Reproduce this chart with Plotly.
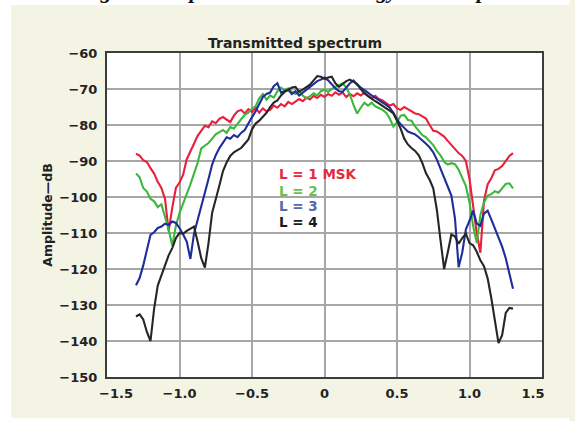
import plotly.graph_objects as go

# ---- data ----
x_vals = [round(-1.3 + 0.025 * i, 3) for i in range(105)]

red_l1 = [-88, -88.5, -89.8, -90.3, -92, -93.5, -95.8, -97.5, -100.5, -109.5,
          -103, -97.5, -96, -93.8, -89.5, -87.5, -85.2, -83, -81.5, -80.2,
          -80.6, -79, -79.5, -78.3, -77.8, -78.6, -79.2, -77.4, -76.2, -75.8,
          -76.8, -75.6, -76.4, -75.2, -76.6, -75.4, -76.2, -75.8, -74.6, -75.2,
          -74.2, -74.8, -73.6, -74.2, -73.4, -72.8, -73.4, -72.4, -72.9, -71.9,
          -72.5, -71.6, -72.2, -71.4, -71.9, -70.9, -71.6, -71, -72.2, -71.4,
          -72, -71.2, -71.8, -71, -71.8, -72.6, -71.9, -72.8, -73.2, -73.8,
          -74.6, -74.2, -75.4, -75.8, -75, -75.6, -76.2, -76.8, -77, -77.6,
          -78.2, -80, -81.6, -81.8, -82.6, -83.2, -84.4, -85.6, -86.8, -87.8,
          -88.6, -90, -95, -103, -110, -115.5, -101, -96.5, -94.8, -92.6,
          -92.2, -91.4, -90, -88.6, -87.8]

green_l2 = [-93.5, -94.5, -97.5, -98.5, -100.5, -101.2, -102.8, -102, -105.5, -109,
            -113.5, -108, -104.5, -102, -99.5, -96.5, -93.5, -90.5, -86.5, -85.8,
            -85, -83.8, -82.6, -82, -81.4, -82.2, -80.6, -81, -79.6, -78.4,
            -77.2, -76.6, -75.4, -74.8, -72.6, -71.4, -73, -71.8, -72.4, -70.6,
            -69.6, -70.4, -69.8, -70.8, -71.4, -70.6, -71.8, -72.6, -72, -71.2,
            -71.8, -70.6, -70.2, -70.8, -70, -69.4, -68.8, -68.4, -69.6, -71.6,
            -74.4, -76.8, -75.2, -73.8, -74.6, -73.8, -74.8, -75.2, -75.8, -76.6,
            -78.2, -80.4, -79.2, -77.4, -77.2, -78.6, -78.8, -80.4, -81.6, -82.8,
            -83.4, -84.6, -85.6, -87.2, -88.4, -90.2, -91, -90.6, -90.9, -92.4,
            -94.6, -97, -101.5, -108, -112.8, -105, -101.5, -99.6, -99.2, -98.4,
            -98.8, -97.6, -96.4, -96.2, -97.6]

blue_l3 = [-124.5, -122.5, -119, -114.5, -110.5, -109.8, -108.6, -108.2, -107.4, -107.8,
           -106.8, -107.2, -108.6, -110.4, -112.4, -117.2, -110.2, -106.4, -102.8, -99,
           -95, -91, -88.4, -86.4, -84.8, -83.4, -83.8, -82.8, -83.4, -82.2,
           -81.4, -79.4, -77.8, -76.2, -74, -72.2, -71.4, -71, -69.2, -68.4,
           -71, -70.6, -70.2, -71.4, -70.6, -71.8, -71, -70.2, -69.4, -68.6,
           -67.8, -67.4, -66.8, -67.6, -68.8, -69.8, -70.6, -70.8, -69.6, -68.4,
           -67.6, -68.8, -69.6, -70.2, -71, -71.8, -72.4, -73.2, -73.8, -74.4,
           -75.2, -76.6, -78.4, -79.8, -80.8, -81.8, -82.2, -82.6, -83.4, -84.2,
           -85.2, -86.2, -87.6, -89.6, -92.2, -94.8, -97.2, -99.6, -106, -119.5,
           -115.4, -109, -106.6, -103.8, -107.4, -108, -104.6, -103.8, -106.2, -108.6,
           -111.2, -113.8, -117, -121.5, -125.5]

black_l4 = [-133.2, -132.6, -134, -137.5, -140, -131, -124.6, -121.8, -118.6, -116.2,
            -114.2, -111.4, -110, -110.2, -109.4, -108.8, -108.2, -112.4, -117, -119.6,
            -112.8, -104.4, -100.8, -96.8, -92.8, -90.4, -88.6, -87.6, -87, -86.4,
            -85.2, -84, -81.2, -79.6, -78.8, -77.8, -76.6, -75, -73.8, -73.2,
            -71.8, -70.8, -70.2, -69.6, -69.4, -70.8, -70.2, -69.4, -68.8, -67.6,
            -66.4, -66.6, -67.2, -66.8, -66.6, -68.4, -69.4, -68.6, -67.8, -67.4,
            -68, -68.6, -70, -71.2, -72, -72.8, -73.4, -74, -74.8, -75.4,
            -76, -76.8, -78.8, -81, -83.8, -85.4, -86.4, -87.2, -88.4, -90.6,
            -93.4, -95.2, -97.6, -103.6, -112, -120, -115.4, -110.4, -111, -113,
            -111.4, -110.2, -112.8, -113.4, -115.2, -117.6, -119.2, -122.6, -128, -134.4,
            -140.6, -138.4, -132.2, -130.8, -131]

series_names = ["L = 1 MSK", "L = 2", "L = 3", "L = 4"]
series_values = [red_l1, green_l2, blue_l3, black_l4]
line_colors = ["#E8203C", "#3CB83C", "#1E2D9A", "#262626"]
label_colors = ["#E52A3E", "#6CC04A", "#5A66A8", "#1A1A1A"]
label_y = [-93.6, -98.2, -102.5, -106.9]
label_x = -0.325

x_tick_vals = [-1.5, -1.0, -0.5, 0, 0.5, 1.0, 1.5]
x_tick_text = ["\u00a0\u00a0\u00a0\u00a0\u22121.5", "\u22121.0", "\u22120.5", "0", "0.5", "1.0",
               "1.5\u00a0\u00a0\u00a0\u00a0"]
y_tick_vals = [-150, -140, -130, -120, -110, -100, -90, -80, -70, -60]
y_tick_text = ["\u2212150", "\u2212140", "\u2212130", "\u2212120", "\u2212110", "\u2212100",
               "\u221290", "\u221280", "\u221270", "\u221260"]

chart_title = "Transmitted spectrum"
y_title = "Amplitude\u2014dB"
page_heading = "Figure 4 \u2022 Spectrum vs. Bit Energy and Output"

# ---- figure ----
W, H = 575, 421
ML, MR, MT, MB = 107, 23, 53, 44
PW, PH = W - ML - MR, H - MT - MB


def px_to_paper_x(px):
    return (px - ML) / PW


def px_to_paper_y(py):
    return 1 + (MT - py) / PH


FONT = "DejaVu Sans"
CREAM = "#F4F4E5"

fig = go.Figure()
for name, vals, col in zip(series_names, series_values, line_colors):
    fig.add_trace(go.Scatter(x=x_vals, y=vals, mode="lines", name=name,
                             line=dict(color=col, width=2.1),
                             showlegend=False))

for name, yv, col in zip(series_names, label_y, label_colors):
    fig.add_annotation(x=label_x, y=yv, xref="x", yref="y", text="<b>%s</b>" % name,
                       showarrow=False, xanchor="left", yanchor="middle",
                       font=dict(family=FONT, size=13.5, color=col))

# chart title
fig.add_annotation(x=px_to_paper_x(299), y=px_to_paper_y(43), xref="paper", yref="paper",
                   text="<b>%s</b>" % chart_title, showarrow=False,
                   xanchor="center", yanchor="middle",
                   font=dict(family=FONT, size=14, color="#222222"))

# page heading, cut off at the top edge as in the reference
fig.add_annotation(x=px_to_paper_x(297), y=px_to_paper_y(4), xref="paper", yref="paper",
                   text=page_heading, showarrow=False, xanchor="center", yanchor="bottom",
                   borderpad=0,
                   font=dict(family="Liberation Serif", size=22, color="#111111",
                             weight="bold", style="italic"))

# white page strips around the cream panel
fig.add_shape(type="rect", xref="paper", yref="paper", layer="below",
              x0=px_to_paper_x(-5), x1=px_to_paper_x(W + 5),
              y0=px_to_paper_y(5), y1=px_to_paper_y(-5),
              fillcolor="white", line=dict(width=0))
fig.add_shape(type="rect", xref="paper", yref="paper", layer="below",
              x0=px_to_paper_x(-5), x1=px_to_paper_x(9),
              y0=px_to_paper_y(H + 5), y1=px_to_paper_y(-5),
              fillcolor="white", line=dict(width=0))
fig.add_shape(type="rect", xref="paper", yref="paper", layer="below",
              x0=px_to_paper_x(-5), x1=px_to_paper_x(W + 5),
              y0=px_to_paper_y(H + 5), y1=px_to_paper_y(418),
              fillcolor="white", line=dict(width=0))

axis_common = dict(showgrid=True, gridcolor="#A6A6A6", gridwidth=2,
                   showline=True, linecolor="#3C3C3C", linewidth=2, mirror=True,
                   zeroline=False, ticks="", tickmode="array",
                   tickfont=dict(family=FONT, size=13, color="#222222", weight="bold"))

fig.update_layout(
    width=W, height=H,
    margin=dict(l=ML, r=MR, t=MT, b=MB, pad=0),
    paper_bgcolor=CREAM, plot_bgcolor="white",
    xaxis=dict(range=[-1.5, 1.5], tickvals=x_tick_vals, ticktext=x_tick_text,
               ticklabelstandoff=3, **axis_common),
    yaxis=dict(range=[-150, -60], tickvals=y_tick_vals, ticktext=y_tick_text,
               ticklabelstandoff=5,
               title=dict(text="<b>%s</b>" % y_title, standoff=4,
                          font=dict(family=FONT, size=12.5, color="#222222")),
               **axis_common),
)

fig.write_html("out.html")
